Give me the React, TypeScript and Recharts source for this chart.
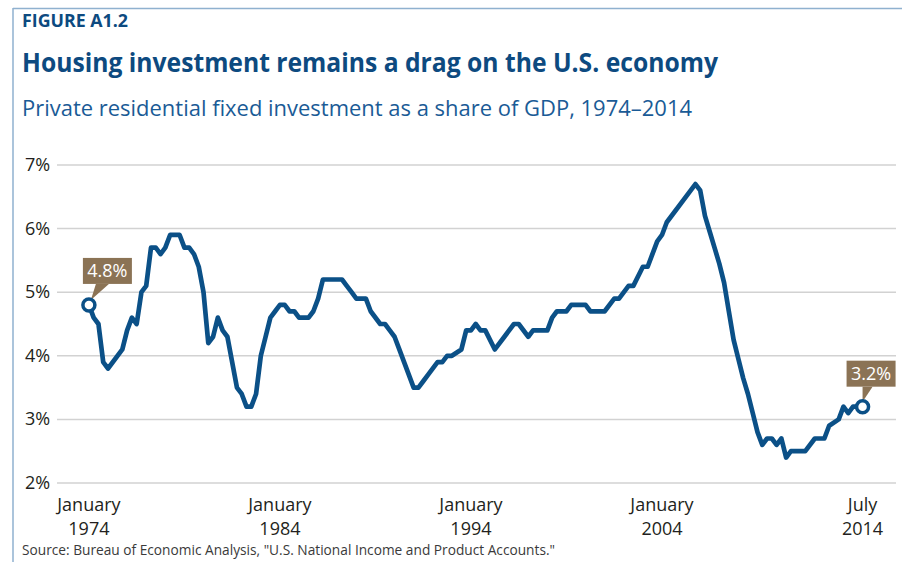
import React from "react";
import { LineChart, Line, XAxis, YAxis, CartesianGrid } from "recharts";

const periods = [
  "1974Q1","1974Q2","1974Q3","1974Q4","1975Q1","1975Q4","1976Q1","1976Q2","1976Q3","1976Q4",
  "1977Q1","1977Q2","1977Q3","1977Q4","1978Q1","1978Q2","1978Q4","1979Q1","1979Q2","1979Q3",
  "1979Q4","1980Q1","1980Q2","1980Q3","1980Q4","1981Q1","1981Q2","1981Q4","1982Q1","1982Q2",
  "1982Q3","1982Q4","1983Q1","1983Q2","1983Q3","1983Q4","1984Q1","1984Q2","1984Q3","1984Q4",
  "1985Q1","1985Q3","1985Q4","1986Q1","1986Q2","1987Q2","1987Q3","1987Q4","1988Q1","1988Q3",
  "1988Q4","1989Q2","1989Q3","1989Q4","1990Q1","1990Q2","1990Q3","1990Q4","1991Q1","1991Q2",
  "1991Q3","1991Q4","1992Q2","1992Q3","1992Q4","1993Q1","1993Q3","1993Q4","1994Q1","1994Q2",
  "1994Q3","1994Q4","1995Q2","1995Q4","1996Q2","1996Q3","1997Q1","1997Q2","1998Q1","1998Q2",
  "1998Q3","1999Q1","1999Q2","2000Q1","2000Q2","2001Q1","2001Q3","2001Q4","2002Q2","2002Q3",
  "2003Q1","2003Q2","2003Q4","2004Q1","2004Q2","2005Q4","2006Q1","2006Q2","2006Q3","2006Q4",
  "2007Q1","2007Q2","2007Q3","2007Q4","2008Q1","2008Q2","2008Q3","2008Q4","2009Q1","2009Q2",
  "2009Q3","2009Q4","2010Q1","2010Q2","2010Q3","2010Q4","2011Q3","2012Q1","2012Q3","2012Q4",
  "2013Q2","2013Q3","2013Q4","2014Q1","2014Q3",
];

const shares = [
  4.8, 4.6, 4.5, 3.9, 3.8, 4.1, 4.4, 4.6, 4.5, 5.0,
  5.1, 5.7, 5.7, 5.6, 5.7, 5.9, 5.9, 5.7, 5.7, 5.6,
  5.4, 5.0, 4.2, 4.3, 4.6, 4.4, 4.3, 3.5, 3.4, 3.2,
  3.2, 3.4, 4.0, 4.3, 4.6, 4.7, 4.8, 4.8, 4.7, 4.7,
  4.6, 4.6, 4.7, 4.9, 5.2, 5.2, 5.1, 5.0, 4.9, 4.9,
  4.7, 4.5, 4.5, 4.4, 4.3, 4.1, 3.9, 3.7, 3.5, 3.5,
  3.6, 3.7, 3.9, 3.9, 4.0, 4.0, 4.1, 4.4, 4.4, 4.5,
  4.4, 4.4, 4.1, 4.3, 4.5, 4.5, 4.3, 4.4, 4.4, 4.6,
  4.7, 4.7, 4.8, 4.8, 4.7, 4.7, 4.9, 4.9, 5.1, 5.1,
  5.4, 5.4, 5.8, 5.9, 6.1, 6.7, 6.6, 6.2, 5.95, 5.7,
  5.45, 5.15, 4.7, 4.25, 3.95, 3.65, 3.4, 3.1, 2.8, 2.6,
  2.7, 2.7, 2.6, 2.7, 2.4, 2.5, 2.5, 2.7, 2.7, 2.9,
  3.0, 3.2, 3.1, 3.2, 3.2,
];

const yTicks = [2, 3, 4, 5, 6, 7];
const xTicks = [1974, 1984, 1994, 2004, 2014.5];
const xTickMonths = ["January", "January", "January", "January", "July"];
const xTickYears = ["1974", "1984", "1994", "2004", "2014"];

const toYear = (p: string) => {
  const y = parseInt(p.slice(0, 4), 10);
  const q = parseInt(p.slice(5), 10);
  return y + (q - 1) / 4;
};

const data = periods.map((p, i) => ({ t: toYear(p), v: shares[i] }));

const LINE = "#0b5087";
const BROWN = "#8b7355";
const FONT = "'Open Sans', sans-serif";

const XTick = (props: any) => {
  const { x, y, payload } = props;
  const i = xTicks.indexOf(payload.value);
  return (
    <g>
      <text x={x} y={y + 20} textAnchor="middle" fontFamily={FONT} fontSize={18} fill="#231f20">
        {xTickMonths[i]}
      </text>
      <text x={x} y={y + 44} textAnchor="middle" fontFamily={FONT} fontSize={18} fill="#231f20">
        {xTickYears[i]}
      </text>
    </g>
  );
};

const YTick = (props: any) => {
  const { y, payload } = props;
  return (
    <text x={25} y={y + 6} textAnchor="start" fontFamily={FONT} fontSize={18} fill="#231f20">
      {payload.value}%
    </text>
  );
};

const Dot = (props: any) => {
  const { cx, cy, index, value } = props;
  const last = data.length - 1;
  if (index !== 0 && index !== last) return <g key={`d${index}`} />;
  const label = `${Number(value).toFixed(1)}%`;
  const first = index === 0;
  const bx = first ? cx - 6 : cx - 16;
  const by = first ? cy - 47 : cy - 46;
  const bw = 49;
  const bh = 26;
  const pointer = first
    ? `${cx + 7},${by + bh} ${cx + 20},${by + bh} ${cx + 2},${cy - 5}`
    : `${cx},${by + bh} ${cx + 10},${by + bh} ${cx},${cy - 5}`;
  return (
    <g key={`d${index}`}>
      <rect x={bx} y={by} width={bw} height={bh} fill={BROWN} />
      <polygon points={pointer} fill={BROWN} />
      <text x={bx + bw / 2} y={by + 19} textAnchor="middle" fontFamily={FONT} fontSize={18} fill="#ffffff">
        {label}
      </text>
      <circle cx={cx} cy={cy} r={6} fill="#ffffff" stroke={LINE} strokeWidth={3.5} />
    </g>
  );
};

export default function App() {
  return (
    <div style={{ position: "absolute", left: 0, top: 0, width: 902, height: 562, background: "#fff", overflow: "hidden" }}>
      <svg width={902} height={562} style={{ position: "absolute", left: 0, top: 0 }}>
        <line x1={13} y1={8.5} x2={902} y2={8.5} stroke="#8fb1cf" strokeWidth={1.5} />
        <line x1={13} y1={8} x2={13} y2={562} stroke="#8fb1cf" strokeWidth={1.5} />
        <text x={22} y={27} fontFamily={FONT} fontWeight={700} fontSize={17} fill="#0d4a80" textLength={106} lengthAdjust="spacingAndGlyphs">
          FIGURE A1.2
        </text>
        <text x={22} y={72} fontFamily={FONT} fontWeight={700} fontSize={27} fill="#0d4a80" textLength={696} lengthAdjust="spacingAndGlyphs">
          Housing investment remains a drag on the U.S. economy
        </text>
        <text x={22} y={116} fontFamily={FONT} fontSize={22} fill="#1a5b96" textLength={670} lengthAdjust="spacingAndGlyphs">
          Private residential fixed investment as a share of GDP, 1974–2014
        </text>
        <text x={22} y={555} fontFamily={FONT} fontSize={14} fill="#3a3a3a" textLength={533} lengthAdjust="spacingAndGlyphs">
          Source: Bureau of Economic Analysis, "U.S. National Income and Product Accounts."
        </text>
      </svg>
      <div style={{ position: "absolute", left: 0, top: 0 }}>
        <LineChart width={902} height={562} data={data} margin={{ top: 165, right: 6, bottom: 0, left: 0 }}>
          <CartesianGrid horizontal vertical={false} stroke="#d2d2d2" strokeWidth={1.5} />
          <XAxis
            dataKey="t"
            type="number"
            domain={[1972.33, 2016.25]}
            ticks={xTicks}
            tick={<XTick />}
            axisLine={false}
            tickLine={false}
            height={79}
            interval={0}
            allowDataOverflow
          />
          <YAxis
            type="number"
            domain={[2, 7]}
            ticks={yTicks}
            tick={<YTick />}
            axisLine={false}
            tickLine={false}
            width={57}
            interval={0}
          />
          <Line
            type="linear"
            dataKey="v"
            stroke={LINE}
            strokeWidth={4.7}
            strokeLinejoin="round"
            dot={Dot}
            activeDot={false}
            isAnimationActive={false}
          />
        </LineChart>
      </div>
    </div>
  );
}
